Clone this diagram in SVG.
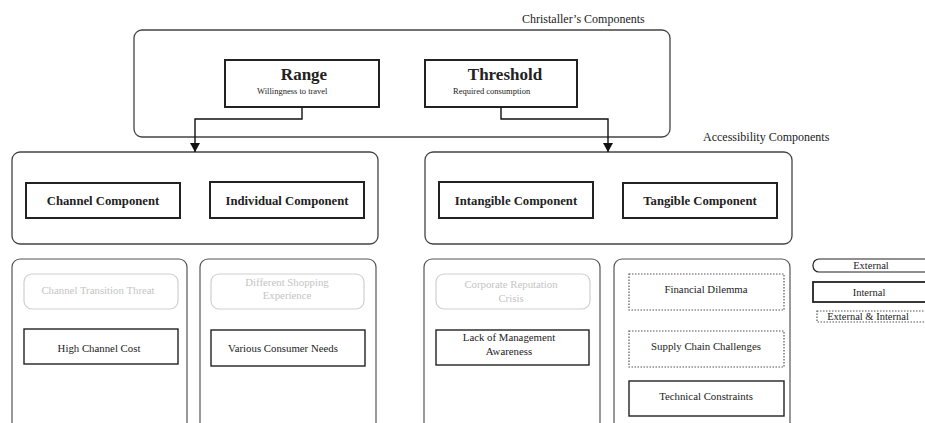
<svg xmlns="http://www.w3.org/2000/svg" width="925" height="423" viewBox="0 0 925 423">
  <defs>
    <marker id="arrow" markerWidth="10" markerHeight="10" refX="9" refY="5" orient="auto" markerUnits="userSpaceOnUse" viewBox="0 0 10 10">
      <path d="M0,0 L9,5 L0,10 Z" fill="#111"/>
    </marker>
    <style>
      text { font-family: "Liberation Serif", "Times New Roman", serif; fill: #222; }
      .title { font-size: 12px; }
      .group { fill: none; stroke: #444; stroke-width: 1.3; }
      .col { fill: none; stroke: #555; stroke-width: 1.2; }
      .key { fill: #fff; stroke: #222; stroke-width: 2; }
      .inner { fill: #fff; stroke: #222; stroke-width: 1.4; }
      .ext { fill: #fff; stroke: #cfcfcf; stroke-width: 1.2; }
      .mixed { fill: #fff; stroke: #555; stroke-width: 1.2; stroke-dasharray: 1.5 1.5; }
      .big { font-size: 17px; font-weight: bold; text-anchor: middle; }
      .sub { font-size: 8.5px; }
      .comp { font-size: 12.7px; font-weight: bold; text-anchor: middle; }
      .lbl { font-size: 10.8px; text-anchor: middle; }
      .faint { font-size: 10.8px; text-anchor: middle; fill: #c4c4c4; }
      .legend { font-size: 10.5px; text-anchor: middle; }
      .wire { fill: none; stroke: #111; stroke-width: 1.4; }
    </style>
  </defs>

  <rect width="925" height="423" fill="#fff"/>

  <!-- Christaller's components -->
  <g id="christaller">
    <text class="title" x="522" y="23">Christaller’s Components</text>
    <rect class="group" x="134" y="30" width="536" height="107" rx="8"/>
  </g>
  <g id="range">
    <rect class="key" x="225" y="60" width="154" height="47"/>
    <text class="big" x="304" y="80">Range</text>
    <text class="sub" x="257" y="94">Willingness to travel</text>
  </g>
  <g id="threshold">
    <rect class="key" x="425" y="60" width="152" height="47"/>
    <text class="big" x="505" y="80">Threshold</text>
    <text class="sub" x="453" y="94">Required consumption</text>
  </g>

  <!-- Accessibility components -->
  <g id="accessibility">
    <text class="title" x="703" y="141">Accessibility Components</text>
  </g>
  <g id="range-group">
    <rect class="group" x="12" y="152" width="366" height="92" rx="8"/>
  </g>
  <g id="channel-component">
    <rect class="key" x="26" y="183" width="154" height="35"/>
    <text class="comp" x="103" y="205">Channel Component</text>
  </g>
  <g id="individual-component">
    <rect class="key" x="210" y="182" width="154" height="36"/>
    <text class="comp" x="287" y="205">Individual Component</text>
  </g>
  <g id="threshold-group">
    <rect class="group" x="425" y="152" width="367" height="92" rx="8"/>
  </g>
  <g id="intangible-component">
    <rect class="key" x="439" y="182" width="154" height="36"/>
    <text class="comp" x="516" y="205">Intangible Component</text>
  </g>
  <g id="tangible-component">
    <rect class="key" x="623" y="183" width="154" height="35"/>
    <text class="comp" x="700" y="205">Tangible Component</text>
  </g>

  <!-- Barrier columns -->
  <g id="channel-barriers">
    <rect class="col" x="12" y="259" width="175" height="180" rx="8"/>
    <rect class="ext" x="24" y="274" width="154" height="35" rx="8"/>
    <text class="faint" x="98" y="294">Channel Transition Threat</text>
    <rect class="inner" x="24" y="329" width="154" height="35"/>
    <text class="lbl" x="99" y="352">High Channel Cost</text>
  </g>
  <g id="individual-barriers">
    <rect class="col" x="200" y="259" width="176" height="180" rx="8"/>
    <rect class="ext" x="211" y="274" width="153" height="35" rx="8"/>
    <text class="faint" x="287" y="286">Different Shopping</text>
    <text class="faint" x="287" y="299">Experience</text>
    <rect class="inner" x="211" y="330" width="154" height="36"/>
    <text class="lbl" x="283" y="352">Various Consumer Needs</text>
  </g>
  <g id="intangible-barriers">
    <rect class="col" x="424" y="259" width="176" height="180" rx="8"/>
    <rect class="ext" x="436" y="274" width="154" height="35" rx="8"/>
    <text class="faint" x="511" y="288">Corporate Reputation</text>
    <text class="faint" x="511" y="302">Crisis</text>
    <rect class="inner" x="436" y="330" width="153" height="35"/>
    <text class="lbl" x="509" y="341">Lack of Management</text>
    <text class="lbl" x="509" y="355">Awareness</text>
  </g>
  <g id="tangible-barriers">
    <rect class="col" x="614" y="259" width="176" height="180" rx="8"/>
    <rect class="mixed" x="629" y="274" width="155" height="36"/>
    <text class="lbl" x="706" y="293">Financial Dilemma</text>
    <rect class="mixed" x="629" y="331" width="155" height="36"/>
    <text class="lbl" x="706" y="350">Supply Chain Challenges</text>
    <rect class="inner" x="629" y="381" width="155" height="35"/>
    <text class="lbl" x="706" y="400">Technical Constraints</text>
  </g>

  <!-- Legend -->
  <g id="legend-external">
    <rect x="813" y="259" width="130" height="13" rx="6" fill="#fff" stroke="#222" stroke-width="1.2"/>
    <text class="legend" x="871" y="269">External</text>
  </g>
  <g id="legend-internal">
    <rect x="813" y="282" width="130" height="20" fill="#fff" stroke="#222" stroke-width="1.8"/>
    <text class="legend" x="869" y="296">Internal</text>
  </g>
  <g id="legend-mixed">
    <rect class="mixed" x="817" y="311" width="126" height="11"/>
    <text class="legend" x="868" y="320">External &amp; Internal</text>
  </g>

  <!-- Connectors -->
  <g id="connectors">
    <polyline class="wire" points="302,107 302,119 195,119 195,152" marker-end="url(#arrow)"/>
    <polyline class="wire" points="501,107 501,119 608,119 608,152" marker-end="url(#arrow)"/>
  </g>
</svg>
